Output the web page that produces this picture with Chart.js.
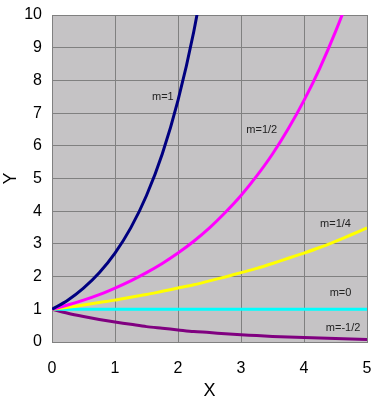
<!DOCTYPE html>
<html>
<head>
<meta charset="utf-8">
<script src="https://cdn.jsdelivr.net/npm/chart.js@4/dist/chart.umd.min.js"></script>
<style>
  html, body { margin: 0; padding: 0; background: #fff; }
  #wrap { width: 377px; height: 406px; }
</style>
</head>
<body>
<div id="wrap"><canvas id="chart"></canvas></div>
<script>
// x positions sampled along the curves
const xs = [0, 0.25, 0.5, 0.75, 1, 1.25, 1.5, 1.75, 2, 2.25, 2.5, 2.75, 3, 3.25, 3.5, 3.75, 4, 4.25, 4.5, 4.75, 5];

// y values, one list per curve
const yM1 = [1, 1.28, 1.65, 2.12, 2.72, 3.49, 4.48, 5.75, 7.39, 9.49, 12.18];
const yMHalf = [1, 1.13, 1.28, 1.45, 1.65, 1.87, 2.12, 2.40, 2.72, 3.08, 3.49, 3.96, 4.48, 5.08, 5.75, 6.52, 7.39, 8.37, 9.49, 10.75, 12.18];
const yMQuarter = [1, 1.06, 1.13, 1.21, 1.28, 1.37, 1.45, 1.55, 1.65, 1.75, 1.87, 1.99, 2.12, 2.25, 2.40, 2.56, 2.72, 2.89, 3.08, 3.28, 3.49];
const yM0 = [1, 1, 1, 1, 1, 1, 1, 1, 1, 1, 1, 1, 1, 1, 1, 1, 1, 1, 1, 1, 1];
const yMNegHalf = [1, 0.88, 0.78, 0.69, 0.61, 0.54, 0.47, 0.42, 0.37, 0.32, 0.29, 0.25, 0.22, 0.20, 0.17, 0.15, 0.14, 0.12, 0.11, 0.09, 0.08];

const seriesNames = ['m=1', 'm=1/2', 'm=1/4', 'm=0', 'm=-1/2'];
const seriesValues = [yM1, yMHalf, yMQuarter, yM0, yMNegHalf];
const seriesColors = ['#000080', '#FF00FF', '#FFFF00', '#00FFFF', '#800080'];

// where each curve's name sits, in data units
const labelSpots = [
  { text: 'm=1', x: 1.76, y: 7.5 },
  { text: 'm=1/2', x: 3.33, y: 6.48 },
  { text: 'm=1/4', x: 4.5, y: 3.6 },
  { text: 'm=0', x: 4.58, y: 1.5 },
  { text: 'm=-1/2', x: 4.62, y: 0.43 },
];

const toPoints = ys => ys.map((y, i) => ({ x: xs[i], y: y }));

const plotBg = {
  id: 'plotBg',
  beforeDraw(chart) {
    const a = chart.chartArea;
    const ctx = chart.ctx;
    ctx.save();
    ctx.fillStyle = '#C5C3C5';
    ctx.fillRect(a.left, a.top, a.right - a.left, a.bottom - a.top);
    ctx.restore();
  },
};

const curveLabels = {
  id: 'curveLabels',
  afterDatasetsDraw(chart) {
    const ctx = chart.ctx;
    const sx = chart.scales.x, sy = chart.scales.y;
    ctx.save();
    ctx.font = '11px "Liberation Sans", Arial, sans-serif';
    ctx.fillStyle = '#222';
    ctx.textAlign = 'center';
    ctx.textBaseline = 'middle';
    labelSpots.forEach(l => ctx.fillText(l.text, sx.getPixelForValue(l.x), sy.getPixelForValue(l.y)));
    ctx.restore();
  },
};

new Chart(document.getElementById('chart'), {
  type: 'scatter',
  data: {
    datasets: seriesNames.map((name, i) => ({
      label: name,
      data: toPoints(seriesValues[i]),
      showLine: true,
      borderColor: seriesColors[i],
      backgroundColor: seriesColors[i],
      borderWidth: 3,
      pointRadius: 0,
      tension: 0.3,
    })),
  },
  options: {
    responsive: true,
    maintainAspectRatio: false,
    animation: false,
    layout: { padding: { top: 15, right: 10, left: 0, bottom: 0 } },
    plugins: {
      legend: { display: false },
      tooltip: { enabled: false },
    },
    scales: {
      x: {
        type: 'linear',
        min: 0,
        max: 5,
        ticks: { stepSize: 1, color: '#000', padding: 17, font: { family: '"Liberation Sans", Arial', size: 16 } },
        grid: { color: '#808080', drawTicks: false },
        border: { color: '#808080' },
        title: { display: true, text: 'X', color: '#000', font: { family: '"Liberation Sans", Arial', size: 18 }, padding: { top: 11 } },
        afterFit: s => { s.height = 64; s.paddingLeft = 0; s.paddingRight = 0; },
      },
      y: {
        min: 0,
        max: 10,
        ticks: { stepSize: 1, color: '#000', padding: 10, font: { family: '"Liberation Sans", Arial', size: 16 } },
        grid: { color: '#808080', drawTicks: false },
        border: { color: '#808080' },
        title: { display: true, text: 'Y', color: '#000', font: { family: '"Liberation Sans", Arial', size: 18 }, padding: 0 },
        afterFit: s => { s.width = 52; s.paddingTop = 0; s.paddingBottom = 0; },
      },
    },
  },
  plugins: [plotBg, curveLabels],
});
</script>
</body>
</html>
